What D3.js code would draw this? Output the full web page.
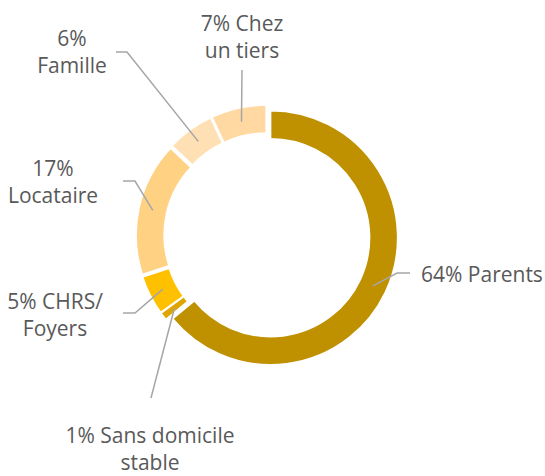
<!DOCTYPE html>
<html>
<head>
<meta charset="utf-8">
<script src="https://cdn.jsdelivr.net/npm/d3@7"></script>
<style>
  body { margin: 0; background: white; }
  text { font-family: "Open Sans", "Noto Sans", sans-serif; fill: #595959; }
</style>
</head>
<body>
<div id="canvas"></div>
<script>
const width = 545;
const height = 476;

// data, clockwise from 12 o'clock
const categories = ["Parents", "Sans domicile stable", "CHRS/ Foyers", "Locataire", "Famille", "Chez un tiers"];
const values = [64, 1, 5, 17, 6, 7];
const labelLines = [
    ["64% Parents"],
    ["1% Sans domicile", "stable"],
    ["5% CHRS/", "Foyers"],
    ["17%", "Locataire"],
    ["6%", "Famille"],
    ["7% Chez", "un tiers"]
];
const colors = ["#BF9000", "#DFA500", "#FFC000", "#FFD283", "#FFE0B4", "#FFD9A1"];

// label layout (manual placement, like the original)
const labelPos = [
    {x: 421, y: 282, anchor: "start", elbow: [[397, 273], [410, 273]]},
    {x: 150, y: 443, anchor: "middle", elbow: [[151, 398]]},
    {x: 55, y: 309, anchor: "middle", elbow: [[135, 313], [123, 313]]},
    {x: 53, y: 176, anchor: "middle", elbow: [[135, 181], [123, 181]]},
    {x: 72, y: 46, anchor: "middle", elbow: [[127, 52], [116, 52]]},
    {x: 242, y: 31, anchor: "middle", elbow: [[242, 70]]}
];

const cx = 267;
const cy = 236;
const outerR = 127;
const innerR = 99;
const explode = 4;
const lineH = 27;

const svg = d3.select("#canvas")
    .append("svg")
    .attr("width", width)
    .attr("height", height);

const pie = d3.pie().sort(null).value(d => d);
const arcs = pie(values);

const arc = d3.arc()
    .innerRadius(innerR)
    .outerRadius(outerR);

// offset of each slice along its bisector
function offset(a) {
    let mid = (a.startAngle + a.endAngle) / 2;
    return [explode * Math.sin(mid), -explode * Math.cos(mid)];
}

let slices = svg.append("g")
    .attr("transform", "translate(" + cx + "," + cy + ")");

slices.selectAll("path")
    .data(arcs)
    .enter()
    .append("path")
    .attr("d", arc)
    .attr("transform", d => "translate(" + offset(d) + ")")
    .attr("fill", (d, i) => colors[i])
    .attr("stroke", "white")
    .attr("stroke-width", 1.5);

// leader lines from slice centroids, then the labels
for (let i = 0; i < arcs.length; i++) {
    let c = arc.centroid(arcs[i]);
    let o = offset(arcs[i]);
    let pts = [[cx + c[0] + o[0], cy + c[1] + o[1]]].concat(labelPos[i].elbow);

    svg.append("path")
        .attr("d", d3.line()(pts))
        .attr("fill", "none")
        .attr("stroke", "#A6A6A6")
        .attr("stroke-width", 1.5);

    let t = svg.append("text")
        .attr("x", labelPos[i].x)
        .attr("y", labelPos[i].y)
        .attr("text-anchor", labelPos[i].anchor)
        .attr("font-size", 21);

    labelLines[i].forEach((line, j) => {
        t.append("tspan")
            .attr("x", labelPos[i].x)
            .attr("dy", j === 0 ? 0 : lineH)
            .text(line);
    });
}
</script>
</body>
</html>
